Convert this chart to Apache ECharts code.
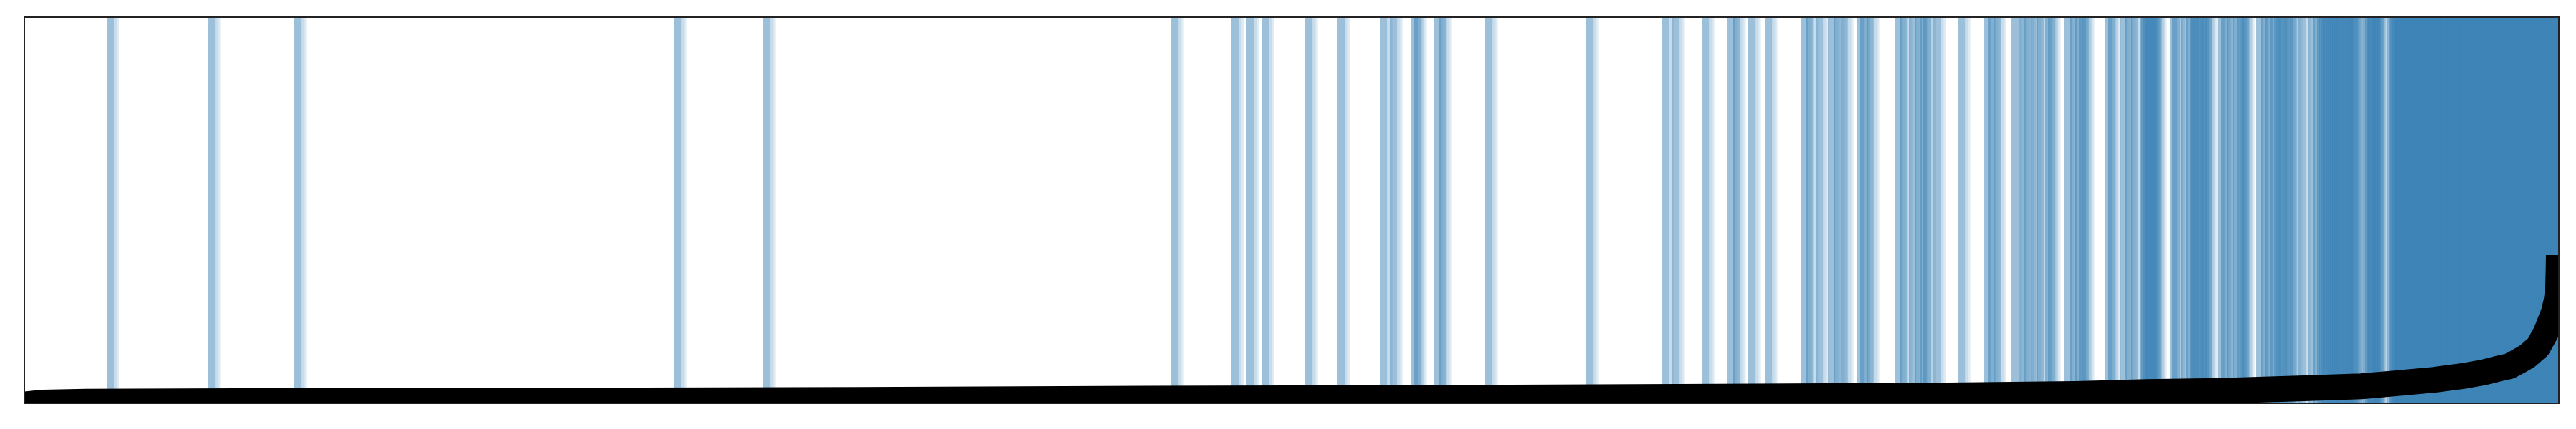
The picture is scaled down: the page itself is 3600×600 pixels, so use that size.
<!DOCTYPE html>
<html>
<head>
<meta charset="utf-8">
<script src="https://cdn.jsdelivr.net/npm/echarts@6/dist/echarts.min.js"></script>
<style>html,body{margin:0;padding:0;background:#fff}#c{width:3600px;height:600px}</style>
</head>
<body>
<div id="c"></div>
<script>
// x: sample index (sorted), y: sorted value
const xMax = 3542;
const curveX = [0, 26, 86, 366, 766, 1166, 1566, 1966, 2366, 2666, 2866, 2966, 3066, 3186, 3266, 3316, 3368, 3406, 3437, 3456, 3473, 3486, 3498, 3513, 3524, 3535, 3539, 3541, 3541.6, 3542];
const curveY = [-0.003, 0.002, 0.004, 0.006, 0.007, 0.009, 0.012, 0.014, 0.017, 0.020, 0.024, 0.029, 0.032, 0.039, 0.044, 0.052, 0.061, 0.070, 0.080, 0.089, 0.096, 0.109, 0.122, 0.146, 0.183, 0.235, 0.267, 0.300, 0.341, 0.383];

// highlighted sample positions
const eventsSparse = [115, 257, 377, 908, 1032, 1602, 1687, 1708, 1729, 1790, 1835, 1895, 1909, 1938, 1942, 1970, 1977, 2041, 2182, 2288, 2303, 2345, 2380, 2388, 2409, 2433];
const eventsMid = [2483, 2490, 2504, 2521, 2529, 2539, 2561, 2566, 2575,
  2614, 2621, 2634, 2642, 2649, 2654, 2668, 2702, 2738, 2744, 2752,
  2777, 2788, 2794, 2804, 2813, 2824, 2828, 2851, 2859, 2866, 2871, 2876];
const eventsDense = [2908, 2912, 2929, 2936, 2944, 2956, 2958, 2961, 2963, 2966, 2970, 2973, 2976, 2999, 3002, 3014, 3021,
  3026, 3028, 3031, 3036, 3040, 3043, 3048,
  3066, 3070, 3078, 3086, 3092, 3096, 3099, 3119, 3126, 3132, 3138, 3144, 3147, 3150, 3156, 3160, 3166, 3178, 3191, 3198,
  3204, 3207, 3210, 3213, 3216, 3219, 3222, 3225, 3228, 3231, 3234, 3237, 3240, 3243, 3246, 3249, 3252, 3258,
  3268, 3271, 3274, 3276, 3279, 3282, 3284, 3288];
const eventsTail = [3302, 3304, 3306, 3309, 3311, 3313, 3315, 3318, 3320, 3322, 3324, 3327, 3329, 3331, 3333, 3336,
  3338, 3340, 3342, 3345, 3347, 3349, 3351, 3354, 3356, 3358, 3360, 3363, 3365, 3367, 3369, 3372, 3374, 3376, 3378,
  3381, 3383, 3385, 3387, 3390, 3392, 3394, 3396, 3399, 3401, 3403, 3405, 3408, 3410, 3412, 3414, 3417, 3419, 3421,
  3423, 3426, 3428, 3430, 3432, 3435, 3437, 3439, 3441, 3444, 3446, 3448, 3450, 3453, 3455, 3457, 3459, 3462, 3464,
  3466, 3468, 3471, 3473, 3475, 3477, 3480, 3482, 3484, 3486, 3489, 3491, 3493, 3495, 3498, 3500, 3502, 3504, 3507,
  3509, 3511, 3513, 3516, 3518, 3520, 3522, 3525, 3527, 3529, 3531, 3534, 3536, 3538, 3540];

const events = eventsSparse.concat(eventsMid, eventsDense, eventsTail);
const base = '58,129,182';
const layers = [[0, 10.3, 0.5], [10.3, 14.5, 0.28], [14.5, 17.6, 0.16]];
const areas = [];
events.forEach(e => {
  layers.forEach(([a, b, al]) => {
    areas.push([{xAxis: Math.min(e + a, xMax), itemStyle: {color: 'rgba(' + base + ',' + al + ')'}}, {xAxis: Math.min(e + b, xMax)}]);
  });
});

const L = 34, T = 24, W = 3542, H = 540;
const chart = echarts.init(document.getElementById('c'), null, {renderer: 'canvas'});
chart.setOption({
  animation: false,
  grid: {left: L, right: 3600 - L - W, top: T, bottom: 600 - T - H, show: false},
  xAxis: {type: 'value', min: 0, max: xMax, show: false, splitLine: {show: false}},
  yAxis: {type: 'value', min: 0, max: 1, show: false, splitLine: {show: false}},
  graphic: [
    {type: 'rect', z: 100, silent: true, shape: {x: 0, y: T + H, width: 3600, height: 600 - T - H}, style: {fill: '#fff'}},
    {type: 'rect', z: 100, silent: true, shape: {x: 0, y: 0, width: L, height: 600}, style: {fill: '#fff'}},
    {type: 'rect', z: 100, silent: true, shape: {x: L + W, y: 0, width: 3600 - L - W, height: 600}, style: {fill: '#fff'}},
    {type: 'rect', z: 100, silent: true, shape: {x: 0, y: 0, width: 3600, height: T}, style: {fill: '#fff'}},
    {type: 'rect', z: 101, silent: true, shape: {x: L, y: T, width: W, height: H}, style: {fill: null, stroke: '#222', lineWidth: 2}}
  ],
  series: [
    {type: 'line', data: [], z: 1, silent: true,
     markArea: {silent: true, data: areas, itemStyle: {borderWidth: 0}, label: {show: false}}},
    {type: 'line', z: 5, silent: true, symbol: 'none', clip: true,
     data: curveX.map((x, i) => [x, curveY[i]]),
     lineStyle: {color: '#000', width: 36, cap: 'butt', join: 'round'}}
  ]
});
</script>
</body>
</html>
